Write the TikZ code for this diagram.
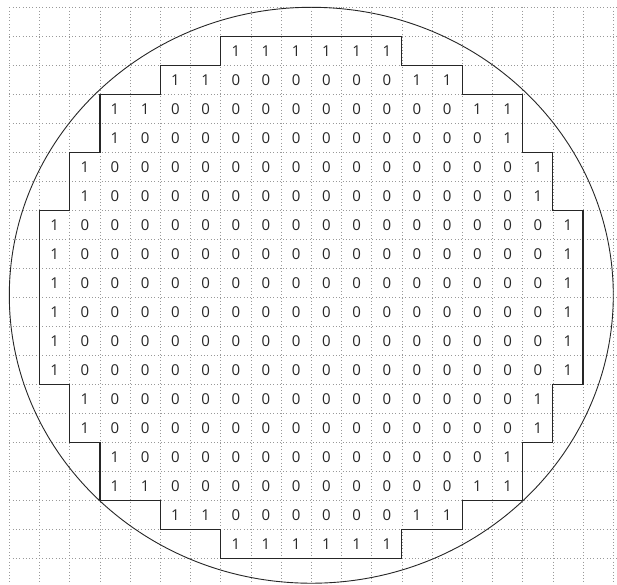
\documentclass[tikz,border=0pt]{standalone}
\usepackage{fontspec}
\setmainfont{Open Sans}
\begin{document}
\begin{tikzpicture}[x=30.2pt,y=-29pt,
  gridline/.style={gray!80,line width=0.6pt,dash pattern=on 0.7pt off 2.6pt},
  outline/.style={black!85,line width=1.2pt},
  wafer/.style={black!85,line width=0.9pt},
  cell/.style={inner sep=0pt,font=\fontsize{15}{16}\selectfont,text=black!85}]
\useasboundingbox (-0.308,-0.2517) rectangle (20.123,19.921);
\foreach \i in {0,...,20} \draw[gridline] (\i,0) -- (\i,19.921);
\foreach \j in {0,...,19} \draw[gridline] (0,\j) -- (20.123,\j);
\draw[wafer] (10,9.93) ellipse [x radius=10, y radius=9.93];
\draw[outline] (7,1) -- (13,1) -- (13,2) -- (15,2) -- (15,3) -- (17,3) -- (17,5) -- (18,5) -- (18,7) -- (19,7) -- (19,13) -- (18,13) -- (18,15) -- (17,15) -- (17,17) -- (15,17) -- (15,18) -- (13,18) -- (13,19) -- (7,19) -- (7,18) -- (5,18) -- (5,17) -- (3,17) -- (3,15) -- (2,15) -- (2,13) -- (1,13) -- (1,7) -- (2,7) -- (2,5) -- (3,5) -- (3,3) -- (5,3) -- (5,2) -- (7,2) -- cycle;
\foreach \j/\a/\vals in {
  1/7/{1,1,1,1,1,1},
  2/5/{1,1,0,0,0,0,0,0,1,1},
  3/3/{1,1,0,0,0,0,0,0,0,0,0,0,1,1},
  4/3/{1,0,0,0,0,0,0,0,0,0,0,0,0,1},
  5/2/{1,0,0,0,0,0,0,0,0,0,0,0,0,0,0,1},
  6/2/{1,0,0,0,0,0,0,0,0,0,0,0,0,0,0,1},
  7/1/{1,0,0,0,0,0,0,0,0,0,0,0,0,0,0,0,0,1},
  8/1/{1,0,0,0,0,0,0,0,0,0,0,0,0,0,0,0,0,1},
  9/1/{1,0,0,0,0,0,0,0,0,0,0,0,0,0,0,0,0,1},
  10/1/{1,0,0,0,0,0,0,0,0,0,0,0,0,0,0,0,0,1},
  11/1/{1,0,0,0,0,0,0,0,0,0,0,0,0,0,0,0,0,1},
  12/1/{1,0,0,0,0,0,0,0,0,0,0,0,0,0,0,0,0,1},
  13/2/{1,0,0,0,0,0,0,0,0,0,0,0,0,0,0,1},
  14/2/{1,0,0,0,0,0,0,0,0,0,0,0,0,0,0,1},
  15/3/{1,0,0,0,0,0,0,0,0,0,0,0,0,1},
  16/3/{1,1,0,0,0,0,0,0,0,0,0,0,1,1},
  17/5/{1,1,0,0,0,0,0,0,1,1},
  18/7/{1,1,1,1,1,1}}
{
  \foreach \v [count=\k from 0] in \vals
    \node[cell] (c-\j-\k) at ({\a+\k+0.5},{\j+0.5}) {\v};
}
\end{tikzpicture}
\end{document}
